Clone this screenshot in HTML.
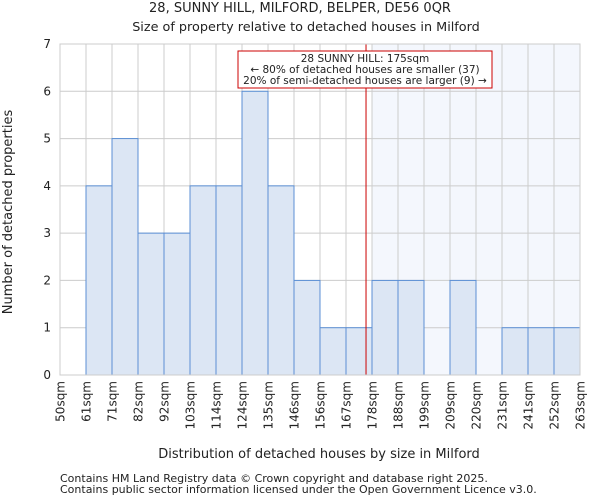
<!DOCTYPE html>
<html><head><meta charset="utf-8"><style>
body{margin:0;background:#fff;font-family:"DejaVu Sans","Liberation Sans",sans-serif;}
svg text{font-family:"DejaVu Sans","Liberation Sans",sans-serif;fill:#222;}
</style></head><body>
<svg id="c" width="600" height="500" xmlns="http://www.w3.org/2000/svg">
<text x="300" y="12" font-size="13" text-anchor="middle">28, SUNNY HILL, MILFORD, BELPER, DE56 0QR</text>
<text x="306" y="31" font-size="12.8" text-anchor="middle">Size of property relative to detached houses in Milford</text>
<g id="plot"></g>
<text x="319" y="458" font-size="13" text-anchor="middle">Distribution of detached houses by size in Milford</text>
<text transform="translate(12,212) rotate(-90)" font-size="13" text-anchor="middle">Number of detached properties</text>
<text x="60" y="482" font-size="11">Contains HM Land Registry data © Crown copyright and database right 2025.</text>
<text x="60" y="493" font-size="11">Contains public sector information licensed under the Open Government Licence v3.0.</text>
</svg>
<script>
const binLabels=["50sqm","61sqm","71sqm","82sqm","92sqm","103sqm","114sqm","124sqm","135sqm","146sqm","156sqm","167sqm","178sqm","188sqm","199sqm","209sqm","220sqm","231sqm","241sqm","252sqm","263sqm"];
const counts=[0,4,5,3,3,4,4,6,4,2,1,1,2,2,0,2,0,1,1,1];
const yTicks=[0,1,2,3,4,5,6,7];
const subjectIndex=11.77;
const shadeFromIndex=12;
const L=60,R=580,T=44,B=375,yMax=7;
const bw=(R-L)/counts.length;
const xs=i=>L+i*bw;
const ys=v=>B-(B-T)*v/yMax;
const NS="http://www.w3.org/2000/svg";
const g=document.getElementById('plot');
function mk(t,a){const e=document.createElementNS(NS,t);for(const k in a)e.setAttribute(k,a[k]);g.appendChild(e);return e;}
const sh=mk('rect',{x:xs(shadeFromIndex),y:T,width:R-xs(shadeFromIndex),height:B-T,fill:'#f4f7fd'});


yTicks.forEach(v=>{const l=mk('line',{x1:L,x2:R,y1:ys(v),y2:ys(v),stroke:'#ccc','stroke-width':1});


const t=mk('text',{x:L-9,y:ys(v)+4,'font-size':12,'text-anchor':'end'});t.textContent=v;

});
binLabels.forEach((s,i)=>{const l=mk('line',{x1:xs(i),x2:xs(i),y1:T,y2:B,stroke:'#ccc','stroke-width':1});


const t=mk('text',{transform:`translate(${xs(i)+4.5},${B+6}) rotate(-90)`,'font-size':12,'text-anchor':'end'});t.textContent=s;

});
counts.forEach((c,i)=>{if(c<=0)return;const r=mk('rect',{x:xs(i),y:ys(c),width:bw,height:B-ys(c),fill:'#dce6f4',stroke:'#5b8fd4','stroke-width':1});

});
const sx=xs(subjectIndex);
const vl=mk('line',{x1:sx,x2:sx,y1:T,y2:B,stroke:'#cc0000','stroke-width':1});


const bx=mk('rect',{x:238,y:51,width:254,height:37,fill:'#fff',stroke:'#cc0000','stroke-width':1});


["28 SUNNY HILL: 175sqm","← 80% of detached houses are smaller (37)","20% of semi-detached houses are larger (9) →"].forEach((s,k)=>{const t=mk('text',{x:365,y:62+k*11,'font-size':10.5,'text-anchor':'middle'});t.textContent=s;

});
const ax=mk('rect',{x:L,y:T,width:R-L,height:B-T,fill:'none',stroke:'#ccc','stroke-width':1});


</script>
</body></html>
